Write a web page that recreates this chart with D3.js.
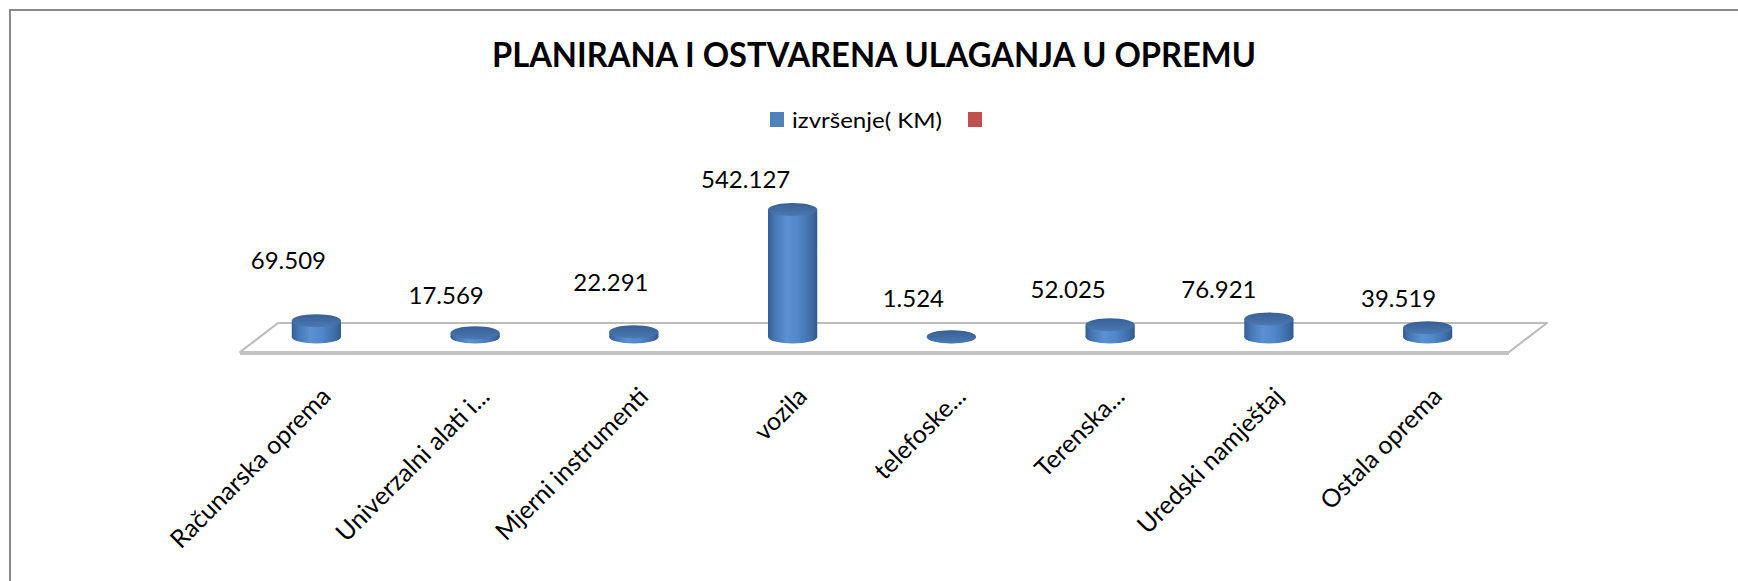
<!DOCTYPE html>
<html>
<head>
<meta charset="utf-8">
<script src="https://cdn.jsdelivr.net/npm/d3@7/dist/d3.min.js"></script>
<style>
	html, body { margin: 0; padding: 0; background: #fff; }
	svg { display: block; }
	text { font-family: Lato, "Open Sans", sans-serif; fill: #000; }
</style>
</head>
<body>
<svg></svg>
<script>
// DATA
var title = "PLANIRANA I OSTVARENA ULAGANJA U OPREMU";
var seriesNames = ["izvršenje( KM)", ""];
var categories = ["Računarska oprema", "Univerzalni alati i...", "Mjerni instrumenti", "vozila",
	"telefoske...", "Terenska...", "Uredski namještaj", "Ostala oprema"];
var values = [69.509, 17.569, 22.291, 542.127, 1.524, 52.025, 76.921, 39.519];
var valueLabels = ["69.509", "17.569", "22.291", "542.127", "1.524", "52.025", "76.921", "39.519"];
// labels were dragged by hand in the original, offset from the top of each bar
var labelNudge = [[-28, -45], [-29, -22], [-23, -34], [-47, -15], [-38, -23], [-42, -20], [-50, -14], [-29, -14]];

var width = 1738, height = 581;
var svg = d3.select("svg").attr("width", width).attr("height", height);

// SCALES
var floorFront = 352, floorBack = 323, floorMid = 337, depth = 38;
var x = d3.scaleBand()
	.domain(categories)
	.range([237, 1507])
	.paddingInner(0.69)
	.paddingOuter(0.345);
var y = d3.scaleLinear().domain([0, 542.127]).range([floorMid, 209.5]);
var rx = x.bandwidth() / 2, ry = 6.5;

// GRADIENTS
var defs = svg.append("defs");
var body = defs.append("linearGradient").attr("id", "cylBody").attr("x1", 0).attr("x2", 1).attr("y1", 0).attr("y2", 0);
[["0%", "#335d92"], ["12%", "#4475b2"], ["38%", "#5b91d3"], ["62%", "#5087c8"], ["88%", "#3e6ca7"], ["100%", "#32598b"]]
	.forEach(s => body.append("stop").attr("offset", s[0]).attr("stop-color", s[1]));
var cap = defs.append("linearGradient").attr("id", "cylTop").attr("x1", 0).attr("x2", 0).attr("y1", 0).attr("y2", 1);
[["0%", "#395f93"], ["100%", "#4a78b2"]]
	.forEach(s => cap.append("stop").attr("offset", s[0]).attr("stop-color", s[1]));
defs.append("filter").attr("id", "soft")
	.append("feGaussianBlur").attr("stdDeviation", 0.6);

// FRAME
svg.append("rect")
	.attr("x", 10).attr("y", 10)
	.attr("width", width + 50).attr("height", height + 50)
	.attr("fill", "#fff")
	.attr("stroke", "#8a8a8a")
	.attr("stroke-width", 2);

// TITLE
svg.append("text")
	.attr("x", 874).attr("y", 67)
	.attr("text-anchor", "middle")
	.attr("font-size", 35)
	.attr("font-weight", "bold")
	.attr("textLength", 764)
	.attr("lengthAdjust", "spacingAndGlyphs")
	.text(title);

// LEGEND
var legend = svg.append("g");
legend.append("rect").attr("x", 770).attr("y", 112).attr("width", 14).attr("height", 15).attr("fill", "#4f81bd");
legend.append("text").attr("x", 792).attr("y", 128).attr("font-size", 21)
	.attr("textLength", 150).attr("lengthAdjust", "spacingAndGlyphs")
	.text(seriesNames[0]);
legend.append("rect").attr("x", 968).attr("y", 112).attr("width", 14).attr("height", 15).attr("fill", "#c0504d");

// FLOOR
var floor = svg.append("g");
floor.append("polygon")
	.attr("points", [[240, floorFront], [240 + depth, floorBack], [1509 + depth, floorBack], [1509, floorFront]].join(" "))
	.attr("fill", "#fff")
	.attr("stroke", "#bdbdbd")
	.attr("stroke-width", 2.2)
	.attr("stroke-linejoin", "round");
floor.append("line")
	.attr("x1", 240).attr("x2", 1509)
	.attr("y1", floorFront + 1).attr("y2", floorFront + 1)
	.attr("stroke", "#c2c2c2")
	.attr("stroke-width", 4);

// BARS
var bars = svg.append("g").selectAll("g")
	.data(values)
	.enter()
	.append("g")
	.attr("filter", "url(#soft)");

bars.append("ellipse")
	.attr("cx", (d, i) => x(categories[i]) + rx)
	.attr("cy", y(0))
	.attr("rx", rx).attr("ry", ry)
	.attr("fill", "url(#cylBody)");

bars.append("rect")
	.attr("x", (d, i) => x(categories[i]))
	.attr("y", (d) => y(d))
	.attr("width", rx * 2)
	.attr("height", (d) => y(0) - y(d))
	.attr("fill", "url(#cylBody)");

bars.append("ellipse")
	.attr("cx", (d, i) => x(categories[i]) + rx)
	.attr("cy", (d) => y(d))
	.attr("rx", rx).attr("ry", ry)
	.attr("fill", "url(#cylTop)");

// VALUE LABELS
svg.append("g").selectAll("text")
	.data(values)
	.enter()
	.append("text")
	.attr("x", (d, i) => x(categories[i]) + rx + labelNudge[i][0])
	.attr("y", (d, i) => y(d) - ry + labelNudge[i][1])
	.attr("text-anchor", "middle")
	.attr("font-size", 24)
	.text((d, i) => valueLabels[i]);

// CATEGORY LABELS
svg.append("g").selectAll("text")
	.data(categories)
	.enter()
	.append("text")
	.attr("text-anchor", "end")
	.attr("font-size", 25)
	.attr("transform", (d) => "translate(" + (x(d) + rx + 16) + ",398) rotate(-45)")
	.text((d) => d);
</script>
</body>
</html>
